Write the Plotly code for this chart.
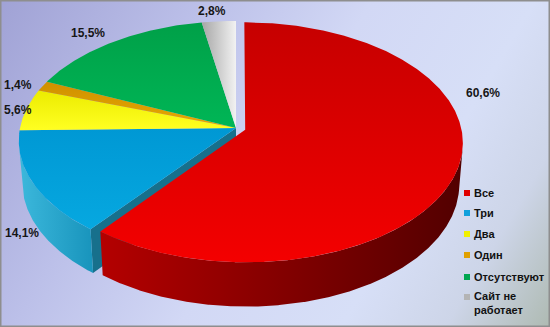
import base64
import numpy as np
import plotly.graph_objects as go

# ---------------- data ----------------
labels = ["Все", "Три", "Два", "Один", "Отсутствуют", "Сайт не<br>работает"]
values = [60.6, 14.1, 5.6, 1.4, 15.5, 2.8]

# ---------------- styles ----------------
top_colors = [("#c60000", "#f40000"), ("#0098d4", "#06a8e0"), ("#ecec00", "#ffff22"),
              ("#cf9000", "#e8aa00"), ("#00a048", "#00b656"), ("#a6a6a6", "#f2f2f2")]
top_dir = ["vertical", "vertical", "vertical", "vertical", "vertical", "horizontal"]
side_colors = [("#b40000", "#520000"), ("#3cb8dc", "#1894bc"), ("#a89600", "#7a6c00"),
               ("#a06e00", "#8a5e00"), ("#007a38", "#006a30"), ("#8c8c8c", "#7a7a7a")]
legend_colors = ["#e00000", "#10a0dc", "#f0f000", "#e0a000", "#00a650", "#b4b4b4"]
explode = [0.045, 0, 0, 0, 0, 0]
wall_color = "#17708c"
text_font = "Liberation Sans, Arial, sans-serif"

W, H = 550, 327
# 3-D projection set-up (pixel space)
CX, CY = 236.0, 128.0
F, D = 1726.0, 7.99
PHI = np.radians(33.2)
TH = 0.235

# layout positions for text (pixels)
LABEL_XY = [(483, 93), (22, 233), (18, 110), (18, 85), (88, 33), (212, 11)]
LEG_TEXT_X = 472
LEG_MARK_X = 467
LEG_Y = [193, 213, 234, 255, 277, 297]

cphi, sphi = np.cos(PHI), np.sin(PHI)
cam = np.array([0.0, D * sphi, -D * cphi])


def proj(x, y, z):
    x = np.asarray(x, float); y = np.asarray(y, float) + 0 * x; z = np.asarray(z, float)
    yc = y * cphi + z * sphi
    zc = z * cphi - y * sphi
    return CX + F * x / (D + zc), CY - F * yc / (D + zc)


fig = go.Figure()


def add_poly(xs, ys, colors=None, gtype=None, solid=None):
    xs = list(xs) + [xs[0]]
    ys = list(ys) + [ys[0]]
    kw = dict(x=xs, y=ys, mode="lines", fill="toself", line=dict(width=0),
              hoverinfo="skip", showlegend=False)
    if solid is not None:
        kw["fillcolor"] = solid
    else:
        if gtype == "vertical":
            st, sp = min(ys), max(ys)
        else:
            st, sp = min(xs), max(xs)
        kw["fillgradient"] = dict(type=gtype, start=st, stop=sp,
                                  colorscale=[[0, colors[0]], [1, colors[1]]])
    fig.add_trace(go.Scatter(**kw))


total = float(sum(values))
edges = np.concatenate([[0.0], np.cumsum(values)]) / total * 360.0


def slice_geom(i):
    a0, a1 = np.radians(edges[i]), np.radians(edges[i + 1])
    mid = 0.5 * (a0 + a1)
    ox, oz = explode[i] * np.sin(mid), explode[i] * np.cos(mid)
    return a0, a1, ox, oz


def top_face(i):
    a0, a1, ox, oz = slice_geom(i)
    th = np.linspace(a0, a1, max(8, int((a1 - a0) * 120)))
    sx, sy = proj(ox + np.sin(th), 0, oz + np.cos(th))
    cx, cy = proj(ox, 0, oz)
    add_poly([float(cx)] + list(sx), [float(cy)] + list(sy), top_colors[i], top_dir[i])


def side_face(i):
    a0, a1, ox, oz = slice_geom(i)
    th = np.linspace(a0, a1, max(8, int((a1 - a0) * 200)))
    rel = cam - np.array([ox, 0.0, oz])
    vis = (rel[0] * np.sin(th) + rel[2] * np.cos(th) - 1) > 0
    th = th[vis]
    if len(th) < 2:
        return
    tx, ty = proj(ox + np.sin(th), 0, oz + np.cos(th))
    bx, by = proj(ox + np.sin(th), -TH, oz + np.cos(th))
    add_poly(list(tx) + list(bx[::-1]), list(ty) + list(by[::-1]), side_colors[i], "horizontal")


def wall(i, ang):
    _, _, ox, oz = slice_geom(i)
    ang = np.radians(ang)
    px = [ox, ox + np.sin(ang), ox + np.sin(ang), ox]
    py = [0, 0, -TH, -TH]
    pz = [oz, oz + np.cos(ang), oz + np.cos(ang), oz]
    sx, sy = proj(px, py, pz)
    add_poly(list(sx), list(sy), solid=wall_color)


# painter's order: back walls, side bands, top faces; exploded slice last
wall(1, edges[1])
for i in range(1, len(values)):
    side_face(i)
for i in range(1, len(values)):
    top_face(i)
side_face(0)
top_face(0)

annotations = []
for i, v in enumerate(values):
    txt = f"{v:.1f}".replace(".", ",") + "%"
    lx, ly = LABEL_XY[i]
    annotations.append(dict(x=lx, y=ly, xref="x", yref="y", text=txt, showarrow=False,
                            xanchor="center", yanchor="middle",
                            font=dict(family=text_font, size=12, color="#161616", weight="bold")))

shapes = []
for i, lab in enumerate(labels):
    nlines = lab.count("<br>") + 1
    yc = LEG_Y[i] + (nlines - 1) * 6
    annotations.append(dict(x=LEG_TEXT_X, y=yc, xref="x", yref="y", text=lab, showarrow=False,
                            xanchor="left", yanchor="middle", align="left",
                            font=dict(family=text_font, size=11, color="#111111", weight="bold")))
    shapes.append(dict(type="rect", xref="x", yref="y", x0=LEG_MARK_X - 3, x1=LEG_MARK_X + 3,
                       y0=LEG_Y[i] - 3, y1=LEG_Y[i] + 3, fillcolor=legend_colors[i],
                       line=dict(width=0)))

shapes.append(dict(type="rect", xref="paper", yref="paper", x0=0, y0=0, x1=1, y1=1,
                   line=dict(color="#8e8e8e", width=3), fillcolor="rgba(0,0,0,0)"))

stops = [(0.0, "#a0a2d5"), (0.28, "#bcc0e9"), (0.5, "#d2d8f5"), (0.72, "#d7dff7"),
         (0.86, "#cdd5e8"), (1.0, "#aebab2")]
svg = ('<svg xmlns="http://www.w3.org/2000/svg" width="550" height="327" viewBox="0 0 550 327" '
       'preserveAspectRatio="none"><defs><linearGradient id="g" gradientUnits="userSpaceOnUse" '
       'x1="0" y1="0" x2="550" y2="327">'
       + "".join(f'<stop offset="{o}" stop-color="{c}"/>' for o, c in stops)
       + '</linearGradient></defs><rect width="550" height="327" fill="url(#g)"/></svg>')
bg_uri = "data:image/svg+xml;base64," + base64.b64encode(svg.encode()).decode()

fig.update_layout(
    width=W, height=H,
    margin=dict(l=0, r=0, t=0, b=0),
    paper_bgcolor="#d2d8f5",
    plot_bgcolor="rgba(0,0,0,0)",
    xaxis=dict(range=[0, W], visible=False, fixedrange=True, domain=[0, 1]),
    yaxis=dict(range=[H, 0], visible=False, fixedrange=True, domain=[0, 1]),
    showlegend=False,
    annotations=annotations,
    shapes=shapes,
    images=[dict(source=bg_uri, xref="paper", yref="paper", x=0, y=1, sizex=1, sizey=1,
                 sizing="stretch", xanchor="left", yanchor="top", layer="below")],
)

fig.write_html("out.html", config={"displayModeBar": False})
